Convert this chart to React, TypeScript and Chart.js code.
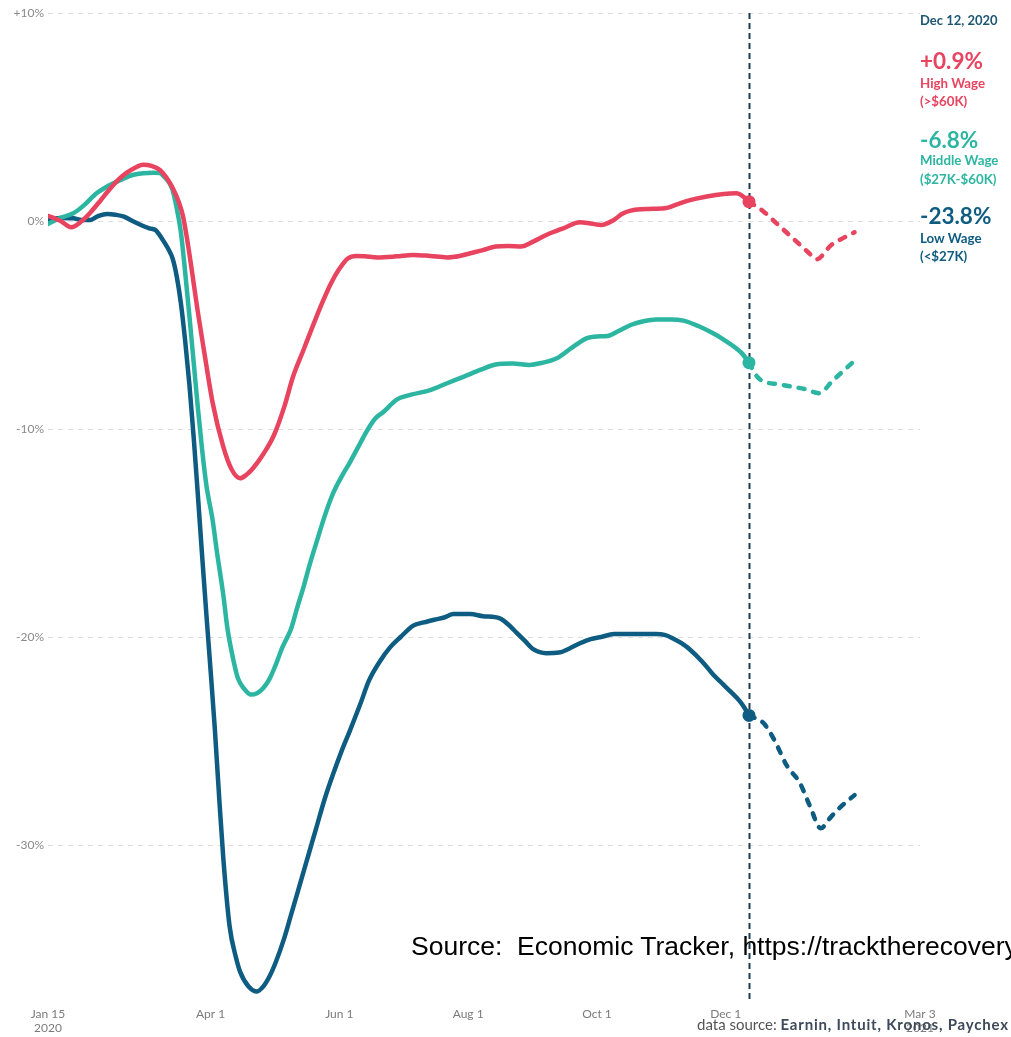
import React, { useEffect, useRef } from "react";
import { Chart, registerables } from "chart.js";

Chart.register(...registerables);

// Days since Jan 15, 2020
const highDays = [0, 6, 11, 16, 20, 25, 29, 33, 37, 41, 45, 49, 53, 56, 59, 62, 64, 67, 69, 71, 74, 78, 83, 87, 91, 94, 97, 102, 107, 112, 116, 121, 126, 130, 134, 138, 142, 146, 150, 156, 165, 173, 181, 189, 195, 200, 206, 212, 218, 224, 230, 236, 244, 252, 257, 262, 268, 272, 276, 284, 292, 298, 304, 312, 320, 326, 329, 332];
const highValues = [0.25, 0.0, -0.3, 0.0, 0.4, 1.0, 1.5, 1.95, 2.3, 2.55, 2.7, 2.65, 2.45, 2.1, 1.6, 0.9, 0.2, -1.6, -3.0, -4.4, -6.3, -8.75, -10.85, -11.95, -12.37, -12.2, -11.9, -11.2, -10.3, -8.9, -7.5, -6.2, -4.9, -3.9, -3.0, -2.3, -1.8, -1.68, -1.7, -1.75, -1.7, -1.63, -1.68, -1.75, -1.68, -1.55, -1.4, -1.23, -1.2, -1.23, -0.98, -0.67, -0.35, -0.06, -0.12, -0.19, 0.05, 0.35, 0.5, 0.58, 0.61, 0.8, 1.0, 1.18, 1.3, 1.33, 1.2, 0.93];
const highProjDays = [332, 339, 346, 353, 360, 364, 371, 377, 382];
const highProjValues = [0.93, 0.45, -0.2, -0.85, -1.5, -1.84, -1.15, -0.8, -0.54];

const middleDays = [0, 6, 12, 17, 23, 27, 31, 36, 40, 45, 50, 53, 55, 57, 59, 61, 63, 65, 67, 69, 71, 73, 75, 78, 80, 83, 85, 88, 90, 93, 96, 99, 102, 105, 108, 111, 115, 118, 121, 124, 127, 131, 135, 139, 143, 147, 151, 155, 159, 165, 172, 181, 189, 197, 205, 212, 220, 228, 234, 241, 248, 255, 260, 265, 270, 276, 282, 288, 295, 301, 308, 315, 320, 325, 329, 332];
const middleValues = [-0.14, 0.15, 0.37, 0.75, 1.33, 1.6, 1.81, 2.05, 2.21, 2.3, 2.32, 2.3, 2.13, 1.9, 1.49, 0.6, -0.59, -2.5, -4.6, -6.8, -9.0, -11.0, -12.7, -14.4, -15.9, -17.96, -19.6, -21.2, -22.0, -22.5, -22.77, -22.7, -22.45, -22.0, -21.3, -20.5, -19.64, -18.6, -17.6, -16.5, -15.5, -14.2, -13.1, -12.3, -11.6, -10.85, -10.1, -9.5, -9.17, -8.6, -8.35, -8.13, -7.8, -7.48, -7.15, -6.9, -6.85, -6.92, -6.82, -6.6, -6.1, -5.64, -5.55, -5.53, -5.3, -5.0, -4.82, -4.73, -4.73, -4.79, -5.05, -5.4, -5.7, -6.05, -6.4, -6.81];
const middleProjDays = [332, 336, 339, 346, 353, 359, 365, 372, 381];
const middleProjValues = [-6.81, -7.5, -7.72, -7.85, -7.98, -8.09, -8.28, -7.64, -6.81];

const lowDays = [0, 6, 12, 16, 20, 24, 28, 32, 36, 40, 44, 48, 51, 54, 57, 59, 61, 63, 65, 67, 69, 71, 73, 75, 77, 79, 81, 83, 86, 89, 91, 95, 99, 102, 105, 108, 111.5, 115, 119, 123, 127, 131, 135, 139, 143, 148, 152, 157, 162, 167, 173, 178, 183, 188, 192, 200, 206, 214, 218, 222, 226, 230, 236, 242, 247, 252, 257, 262, 268, 277, 288, 292, 296, 300, 304, 310, 315, 319, 323, 326, 329, 332];
const lowValues = [0.05, 0.15, 0.13, 0.05, 0.05, 0.25, 0.34, 0.3, 0.21, 0.0, -0.19, -0.35, -0.45, -0.85, -1.35, -1.8, -2.68, -4.0, -5.8, -7.9, -10.4, -13.2, -16.1, -18.9, -21.6, -24.4, -27.6, -30.6, -33.9, -35.4, -36.1, -36.8, -37.04, -36.8, -36.3, -35.6, -34.6, -33.4, -32.0, -30.6, -29.2, -27.8, -26.6, -25.5, -24.5, -23.2, -22.1, -21.2, -20.5, -20.0, -19.45, -19.3, -19.17, -19.05, -18.9, -18.9, -19.0, -19.1, -19.4, -19.8, -20.2, -20.6, -20.78, -20.75, -20.55, -20.3, -20.1, -20.0, -19.86, -19.86, -19.86, -19.9, -20.07, -20.3, -20.6, -21.2, -21.8, -22.2, -22.6, -22.9, -23.27, -23.77];
const lowProjDays = [332, 335, 339, 344, 350, 356, 361, 366, 370, 374, 382];
const lowProjValues = [-23.77, -23.9, -24.15, -24.95, -26.2, -27.0, -28.16, -29.2, -28.75, -28.3, -27.6];

const markerDay = 332;
const markerHigh = 0.93;
const markerMiddle = -6.81;
const markerLow = -23.77;

const xTickDays = [0, 77, 138, 199, 260, 321, 413];
const xTickLabels = [["Jan 15", "2020"], ["Apr 1"], ["Jun 1"], ["Aug 1"], ["Oct 1"], ["Dec 1"], ["Mar 3", "2021"]];
const yTickValues = [-30, -20, -10, 0, 10];

const RED = "#e8435f";
const TEAL = "#2cb6a1";
const BLUE = "#0e5c81";
const NAVY = "#1b3c52";

const pts = (d: number[], v: number[]) => d.map((x, i) => ({ x, y: v[i] }));

const solid = (label: string, d: number[], v: number[], color: string, order: number) => ({
  label,
  data: pts(d, v),
  borderColor: color,
  backgroundColor: color,
  borderWidth: 4.5,
  pointRadius: 0,
  cubicInterpolationMode: "monotone" as const,
  borderCapStyle: "round" as const,
  borderJoinStyle: "round" as const,
  order,
});

const dashed = (label: string, d: number[], v: number[], color: string, order: number) => ({
  label,
  data: pts(d, v),
  borderColor: color,
  backgroundColor: color,
  borderWidth: 4.5,
  borderDash: [6, 9],
  borderCapStyle: "round" as const,
  pointRadius: 0,
  cubicInterpolationMode: "monotone" as const,
  order,
});

const marker = (label: string, y: number, color: string) => ({
  label,
  data: [{ x: markerDay, y }],
  showLine: false,
  pointRadius: 6.5,
  pointBackgroundColor: color,
  pointBorderWidth: 0,
  borderColor: color,
  order: 0,
});

const verticalLine = {
  id: "verticalLine",
  beforeDatasetsDraw(chart: any) {
    const { ctx, chartArea, scales } = chart;
    const x = Math.round(scales.x.getPixelForValue(markerDay)) + 0.5;
    ctx.save();
    ctx.strokeStyle = NAVY;
    ctx.lineWidth = 2;
    ctx.setLineDash([6, 4]);
    ctx.beginPath();
    ctx.moveTo(x, chartArea.top);
    ctx.lineTo(x, chartArea.bottom);
    ctx.stroke();
    ctx.restore();
  },
};

const font = "Lato, 'Noto Sans', sans-serif";

function Label(props: { top: number; size: number; color: string; children: React.ReactNode; spacing?: number }) {
  return (
    <div
      style={{
        position: "absolute",
        left: 920,
        top: props.top - props.size * 0.6,
        fontSize: props.size,
        lineHeight: `${props.size * 1.2}px`,
        fontWeight: 700,
        letterSpacing: props.spacing ?? 0,
        color: props.color,
        fontFamily: font,
        whiteSpace: "nowrap",
      }}
    >
      {props.children}
    </div>
  );
}

export default function App() {
  const canvasRef = useRef<HTMLCanvasElement | null>(null);

  useEffect(() => {
    if (!canvasRef.current) return;
    Chart.defaults.font.family = font;
    const chart = new Chart(canvasRef.current, {
      type: "line",
      data: {
        datasets: [
          solid("High Wage", highDays, highValues, RED, 1),
          solid("Middle Wage", middleDays, middleValues, TEAL, 2),
          solid("Low Wage", lowDays, lowValues, BLUE, 3),
          dashed("High Wage proj", highProjDays, highProjValues, RED, 1),
          dashed("Middle Wage proj", middleProjDays, middleProjValues, TEAL, 2),
          dashed("Low Wage proj", lowProjDays, lowProjValues, BLUE, 3),
          marker("High marker", markerHigh, RED),
          marker("Middle marker", markerMiddle, TEAL),
          marker("Low marker", markerLow, BLUE),
        ] as any,
      },
      options: {
        animation: false,
        responsive: false,
        maintainAspectRatio: false,
        layout: { padding: { top: 13, right: 91, left: 0, bottom: 0 } },
        plugins: { legend: { display: false }, tooltip: { enabled: false } },
        scales: {
          x: {
            type: "linear",
            min: 0,
            max: 413,
            afterBuildTicks: (s: any) => {
              s.ticks = xTickDays.map((value) => ({ value }));
            },
            afterFit: (s: any) => {
              s.height = 36;
            },
            ticks: {
              autoSkip: false,
              maxRotation: 0,
              padding: 6,
              color: "#7b7b7b",
              font: { size: 12 },
              callback: (v: any) => {
                const i = xTickDays.indexOf(Number(v));
                return i >= 0 ? xTickLabels[i] : "";
              },
            },
            grid: { display: false, drawTicks: false },
            border: { display: false },
          },
          y: {
            min: -37.5,
            max: 10,
            afterBuildTicks: (s: any) => {
              s.ticks = yTickValues.map((value) => ({ value }));
            },
            afterFit: (s: any) => {
              s.width = 48;
            },
            ticks: {
              padding: 4,
              color: "#8a8a8a",
              font: { size: 12 },
              callback: (v: any) => (Number(v) > 0 ? `+${v}%` : `${v}%`),
            },
            grid: { color: "#dddddd", lineWidth: 1, drawTicks: false },
            border: { display: false, dash: [5, 5] },
          },
        },
      },
      plugins: [verticalLine],
    });
    return () => chart.destroy();
  }, []);

  return (
    <div style={{ position: "fixed", left: 0, top: 0, width: 1011, height: 1037, overflow: "hidden", background: "#fff" }}>
      <canvas ref={canvasRef} width={1011} height={1037} style={{ position: "absolute", left: 0, top: 0, width: 1011, height: 1037 }} />
      <Label top={21} size={13} color="#1d5673">Dec 12, 2020</Label>
      <Label top={60} size={22.5} color={RED}>+0.9%</Label>
      <Label top={84} size={13.3} color={RED}>High Wage</Label>
      <Label top={102} size={13.3} color={RED}>(&gt;$60K)</Label>
      <Label top={139} size={22.5} color={TEAL}>-6.8%</Label>
      <Label top={161} size={13.3} color={TEAL}>Middle Wage</Label>
      <Label top={180} size={13.3} color={TEAL}>($27K-$60K)</Label>
      <Label top={215} size={22.5} color={BLUE}>-23.8%</Label>
      <Label top={239} size={13.3} color={BLUE}>Low Wage</Label>
      <Label top={257} size={13.3} color={BLUE}>(&lt;$27K)</Label>
      <div
        style={{
          position: "absolute",
          left: 411,
          top: 930,
          fontFamily: "'Liberation Sans', Arial, sans-serif",
          fontSize: 26.5,
          lineHeight: "32px",
          color: "#000",
          whiteSpace: "nowrap",
        }}
      >
        Source:&nbsp; Economic Tracker, https://tracktherecovery.org
      </div>
      <div
        style={{
          position: "absolute",
          left: 697,
          top: 1016,
          fontFamily: font,
          fontSize: 15,
          lineHeight: "17px",
          color: "#555",
          whiteSpace: "nowrap",
        }}
      >
        data source: <b style={{ color: "#3e4a5a", letterSpacing: 0.8 }}>Earnin, Intuit, Kronos, Paychex</b>
      </div>
    </div>
  );
}
